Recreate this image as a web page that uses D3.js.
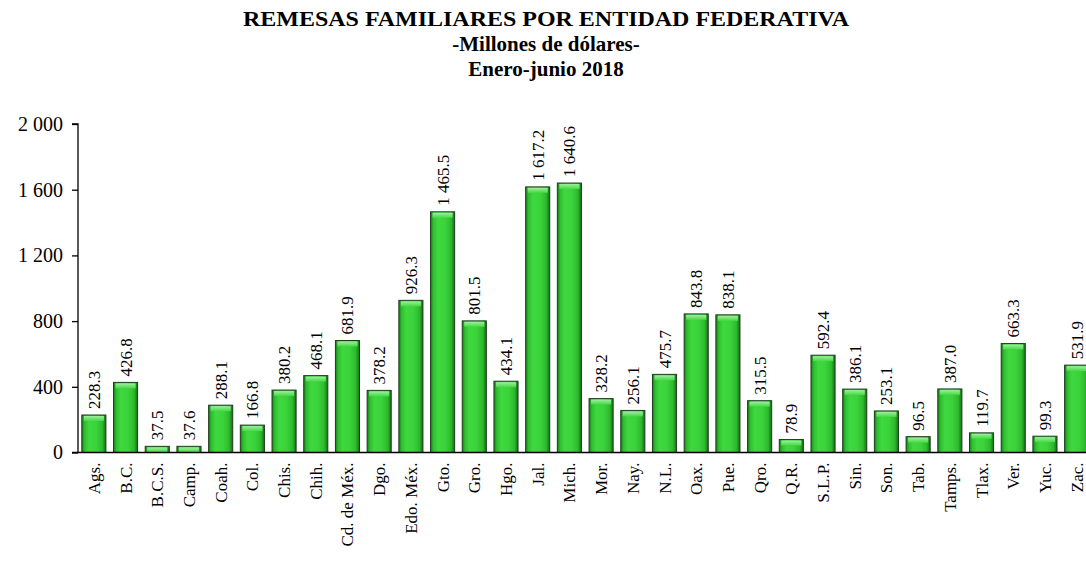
<!DOCTYPE html>
<html>
<head>
<meta charset="utf-8">
<script src="https://cdn.jsdelivr.net/npm/d3@7"></script>
<style>
  html, body { margin: 0; padding: 0; background: #fff; }
  svg { display: block; }
</style>
</head>
<body>
<svg id="chart" width="1086" height="573"></svg>
<script>
const categories = ["Ags.","B.C.","B.C.S.","Camp.","Coah.","Col.","Chis.","Chih.","Cd. de Méx.","Dgo.","Edo. Méx.","Gto.","Gro.","Hgo.","Jal.","Mich.","Mor.","Nay.","N.L.","Oax.","Pue.","Qro.","Q.R.","S.L.P.","Sin.","Son.","Tab.","Tamps.","Tlax.","Ver.","Yuc.","Zac."];
const values = [228.3,426.8,37.5,37.6,288.1,166.8,380.2,468.1,681.9,378.2,926.3,1465.5,801.5,434.1,1617.2,1640.6,328.2,256.1,475.7,843.8,838.1,315.5,78.9,592.4,386.1,253.1,96.5,387.0,119.7,663.3,99.3,531.9];
const yTicks = [0,400,800,1200,1600,2000];
const titleLines = ["REMESAS FAMILIARES POR ENTIDAD FEDERATIVA","-Millones de dólares-","Enero-junio 2018"];

const FONT = "'Liberation Serif', 'Times New Roman', Times, 'DejaVu Serif', serif";
const svg = d3.select("#chart");
const fmt = v => {
  const s = v.toFixed(1);
  const [i, d] = s.split(".");
  return i.replace(/\B(?=(\d{3})+(?!\d))/g, " ") + "." + d;
};
const fmtTick = v => String(v).replace(/\B(?=(\d{3})+(?!\d))/g, " ");

const x = d3.scaleBand().domain(categories).range([78, 1092.5]).paddingInner(0.24).paddingOuter(0.12);
const y = d3.scaleLinear().domain([0, 2000]).range([452.5, 124]);

// gradient
const defs = svg.append("defs");
const g1 = defs.append("linearGradient").attr("id","barGrad").attr("x1","0").attr("x2","1").attr("y1","0").attr("y2","0");
[[0,"#1b7d1b"],[0.12,"#2fbf2f"],[0.3,"#3fd83f"],[0.6,"#3bd33b"],[0.85,"#2dba2d"],[1,"#176d17"]].forEach(([o,c]) =>
  g1.append("stop").attr("offset", o).attr("stop-color", c));
const g2 = defs.append("linearGradient").attr("id","topGrad").attr("x1","0").attr("x2","0").attr("y1","0").attr("y2","1");
[[0,"#9cf09c"],[1,"#45d845"]].forEach(([o,c]) => g2.append("stop").attr("offset", o).attr("stop-color", c));

// title
svg.append("g").selectAll("text").data(titleLines).join("text")
  .attr("x", 546).attr("y", (d,i) => 26 + i*25)
  .attr("text-anchor","middle")
  .attr("font-family", FONT)
  .attr("font-weight","bold")
  .attr("font-size", (d,i) => i === 0 ? "22px" : "21px")
  .each(function(d,i) {
    if (i === 0) d3.select(this).attr("textLength", 606).attr("lengthAdjust", "spacingAndGlyphs");
  })
  .text(d => d);

// bars
const bars = svg.append("g").selectAll("g").data(values).join("g");
bars.append("rect")
  .attr("x", (d,i) => x(categories[i]))
  .attr("y", d => y(d))
  .attr("width", x.bandwidth())
  .attr("height", d => y(0) - y(d))
  .attr("fill", "url(#barGrad)")
  .attr("stroke", "#1f3d1f")
  .attr("stroke-width", 1);
bars.append("rect")
  .attr("x", (d,i) => x(categories[i]) + 2)
  .attr("y", d => y(d) + 1)
  .attr("width", x.bandwidth() - 4)
  .attr("height", d => Math.min(5, y(0) - y(d) - 1))
  .attr("fill", "url(#topGrad)");

// value labels
svg.append("g").selectAll("text").data(values).join("text")
  .attr("transform", (d,i) => `translate(${x(categories[i]) + x.bandwidth()/2 + 6},${y(d) - 6}) rotate(-90)`)
  .attr("text-anchor","start")
  .attr("font-family", FONT)
  .attr("font-size","17px")
  .text(d => fmt(d));

// y axis
const yAxis = svg.append("g").attr("transform","translate(78,0)")
  .call(d3.axisLeft(y).tickValues(yTicks).tickSize(6).tickPadding(9).tickFormat(fmtTick));
yAxis.attr("font-family", FONT).attr("font-size", 20);
yAxis.selectAll("text").attr("dy","0.32em");
yAxis.selectAll("line, path").attr("stroke","#000").attr("stroke-width",1.3);
yAxis.select(".domain").attr("d", `M-6,${y(2000)}H0V${y(0)}`);

// x axis baseline
svg.append("line").attr("x1",72).attr("x2",1086).attr("y1",y(0)).attr("y2",y(0))
  .attr("stroke","#000").attr("stroke-width",1.3);

// category labels
svg.append("g").selectAll("text").data(categories).join("text")
  .attr("transform", d => `translate(${x(d) + x.bandwidth()/2 + 6},${y(0) + 10}) rotate(-90)`)
  .attr("text-anchor","end")
  .attr("font-family", FONT)
  .attr("font-size","17px")
  .text(d => d);
</script>
</body>
</html>
